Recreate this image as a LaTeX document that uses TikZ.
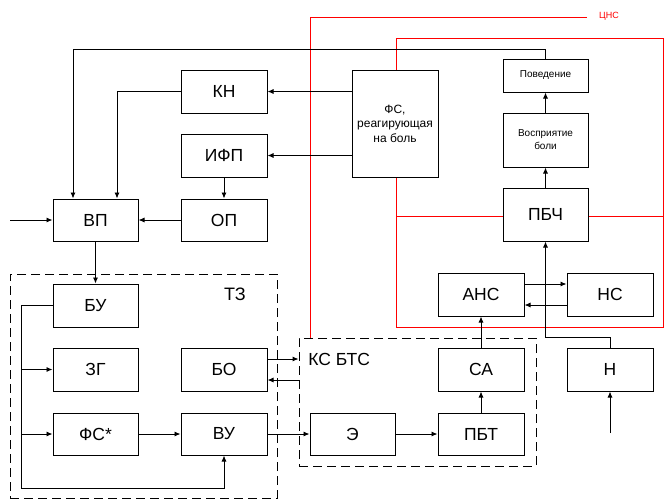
\documentclass[tikz,border=0pt]{standalone}
\usepackage{fontspec}
\setmainfont{Liberation Sans}
\usetikzlibrary{arrows.meta}
\begin{document}
\begin{tikzpicture}[x=1pt,y=-1pt,line width=0.9pt,
  box/.style={draw,line width=1pt,fill=white,inner sep=0pt,minimum width=86pt,minimum height=43pt,font=\fontsize{17.5}{20}\selectfont},
  arr/.style={-{Latex[length=6pt,width=5pt]}},
  zone/.style={draw,dash pattern=on 9pt off 5pt,line width=0.9pt,inner sep=0pt},
  redl/.style={draw=red,line width=0.9pt}]
\useasboundingbox (0,0) rectangle (665,501);
% red structures (behind boxes)
\coordinate (c1) at (310,17);
\coordinate (c2) at (587,17);
\coordinate (r1) at (396,38);
\coordinate (r2) at (663,327);
\draw[redl] (r1) rectangle (r2);
\draw[redl] (r1 |- 0,216) -- (r2 |- 0,216);
\node[text=red,font=\fontsize{9}{11}\selectfont] (cns) at (609,16) {ЦНС};
% zones
\node[zone,minimum width=267pt,minimum height=224pt] (tz) at (143.5,386) {};
\node[zone,minimum width=237pt,minimum height=128pt] (ks) at (417.5,402) {};
\draw[redl] (ks.north -| c1) -- (c1) -- (c2);
\node[font=\fontsize{18}{21}\selectfont] (tzl) at (235,294) {ТЗ};
\node[font=\fontsize{17.5}{20}\selectfont,anchor=west,inner sep=0pt] (ksl) at (308,359) {КС БТС};
% boxes
\node[box] (kn) at (224,91.5) {КН};
\node[box] (ifp) at (224,155.5) {ИФП};
\node[box,minimum height=42pt] (op) at (224,220) {ОП};
\node[box,minimum width=85pt,minimum height=42pt] (vp) at (95.5,220) {ВП};
\node[box,minimum height=107pt,align=center,font=\fontsize{12}{14.5}\selectfont] (fs) at (395,123.5) {ФС,\\реагирующая\\на боль};
\node[box,minimum width=85pt,minimum height=33pt,font=\fontsize{10}{12}\selectfont] (pov) at (545.5,75.5) {Поведение};
\node[box,minimum width=85pt,minimum height=54pt,align=center,font=\fontsize{10}{13}\selectfont] (vos) at (545.5,140) {Восприятие\\боли};
\node[box,minimum width=85pt,minimum height=53pt] (pbch) at (545.5,214.5) {ПБЧ};
\node[box] (ans) at (481,294.5) {АНС};
\node[box] (ns) at (610,294.5) {НС};
\node[box] (sa) at (481,369.5) {СА};
\node[box] (n) at (610,369.5) {Н};
\node[box,minimum height=42pt] (pbt) at (481,434) {ПБТ};
\node[box,minimum width=85pt,minimum height=42pt] (e) at (352.5,434) {Э};
\node[box,minimum width=85pt] (bu) at (95.5,305.5) {БУ};
\node[box,minimum width=85pt] (zg) at (95.5,369.5) {ЗГ};
\node[box,minimum width=85pt,minimum height=42pt] (fss) at (95.5,434) {ФС*};
\node[box] (bo) at (224,369.5) {БО};
\node[box,minimum height=42pt] (vu) at (224,434) {ВУ};
% connectors
\coordinate (t1) at (73,49);
\coordinate (kx) at (117,0);
\coordinate (in1) at (10,220);
\coordinate (lb) at (21,488);
\coordinate (nin) at (610,433);
\draw[arr] (pov.north) |- (t1) -- (t1 |- vp.north);
\draw[arr] (kn.west) -| (kx |- vp.north);
\draw[arr] (fs.west |- kn.east) -- (kn.east);
\draw[arr] (fs.west |- ifp.east) -- (ifp.east);
\draw[arr] (ifp.south) -- (op.north);
\draw[arr] (op.west) -- (vp.east);
\draw[arr] (in1) -- (vp.west);
\draw[arr] (vp.south) -- (bu.north);
\draw[arr] (bu.west) -| (lb) -| (vu.south);
\draw[arr] (lb |- zg.west) -- (zg.west);
\draw[arr] (lb |- fss.west) -- (fss.west);
\draw[arr] (fss.east) -- (vu.west);
\draw[arr] (vu.east) -- (e.west);
\draw[arr] ([yshift=10.5pt]bo.east) -- ([yshift=10.5pt]bo.east -| ks.west);
\draw[arr] ([yshift=-10.5pt]bo.east -| ks.west) -- ([yshift=-10.5pt]bo.east);
\draw[arr] (e.east) -- (pbt.west);
\draw[arr] (pbt.north) -- (sa.south);
\draw[arr] (sa.north) -- (ans.south);
\draw[arr] ([yshift=10.5pt]ans.east) -- ([yshift=10.5pt]ns.west);
\draw[arr] ([yshift=-10.5pt]ns.west) -- ([yshift=-10.5pt]ans.east);
\draw[arr] (n.north) -- ++(0,-10) -| (pbch.south);
\draw[arr] (nin) -- (n.south);
\draw[arr] (pbch.north) -- (vos.south);
\draw[arr] (vos.north) -- (pov.south);
\end{tikzpicture}
\end{document}
